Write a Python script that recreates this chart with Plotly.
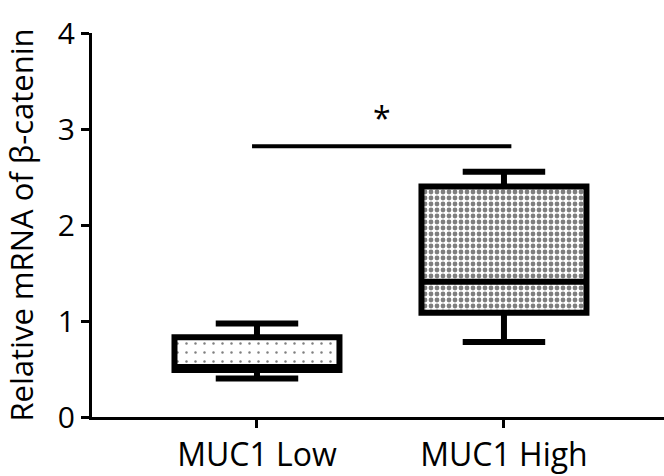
import plotly.graph_objects as go

categories = ["MUC1 Low", "MUC1 High"]
lower_whisker = [0.40, 0.78]
q1_values = [0.49, 1.085]
median_values = [0.52, 1.41]
q3_values = [0.83, 2.40]
upper_whisker = [0.975, 2.555]
fill_patterns = [".", "."]
pattern_sizes = [9, 6]
pattern_solidity = [0.06, 0.5]

y_ticks = [0, 1, 2, 3, 4]
sig_y = 2.82
sig_x = [-0.02, 1.03]
sig_label = "*"

FONT = "Open Sans"
box_w = 0.668

fig = go.Figure()

for i, cat in enumerate(categories):
    fig.add_trace(go.Bar(
        x=[cat], y=[q3_values[i] - q1_values[i]], base=[q1_values[i]],
        width=box_w,
        marker=dict(color="white", line=dict(width=0),
                    pattern=dict(shape=fill_patterns[i], size=pattern_sizes[i],
                                 solidity=pattern_solidity[i], fgcolor="black",
                                 bgcolor="white", fillmode="overlay")),
        hoverinfo="skip", showlegend=False))

fig.add_trace(go.Box(
    x=categories, q1=q1_values, median=median_values, q3=q3_values,
    lowerfence=lower_whisker, upperfence=upper_whisker,
    width=box_w, whiskerwidth=0.5,
    fillcolor="rgba(0,0,0,0)", line=dict(color="black", width=6),
    boxpoints=False, hoverinfo="skip", showlegend=False))

fig.add_shape(type="line", xref="x", yref="y", x0=sig_x[0], x1=sig_x[1],
              y0=sig_y, y1=sig_y, line=dict(color="black", width=4))
fig.add_annotation(x=(sig_x[0] + sig_x[1]) / 2, y=sig_y + 0.3, xref="x", yref="y",
                   text=sig_label, showarrow=False,
                   font=dict(family=FONT, size=32, color="black"))

fig.update_layout(
    width=664, height=476,
    margin=dict(l=92, r=0, t=33, b=59, autoexpand=False),
    paper_bgcolor="white", plot_bgcolor="white",
    font=dict(family=FONT, color="black"),
    bargap=0, barmode="overlay",
)
fig.update_xaxes(
    range=[-0.668, 1.648], showline=True, linecolor="black", linewidth=3,
    ticks="outside", ticklen=8, tickwidth=3, tickcolor="black",
    tickfont=dict(family=FONT, size=32, color="black"),
    showgrid=False, zeroline=False, fixedrange=True, automargin=False,
)
fig.update_yaxes(
    range=[0, 4], tickvals=y_ticks, showline=True, linecolor="black", linewidth=3,
    ticks="outside", ticklen=8, tickwidth=3, tickcolor="black",
    tickfont=dict(family=FONT, size=30, color="black"),
    title=dict(text="Relative mRNA of β-catenin", standoff=16,
               font=dict(family=FONT, size=31, color="black")),
    showgrid=False, zeroline=False, fixedrange=True, automargin=False,
)

fig.write_html("out.html", config={"displayModeBar": False},
               post_script="document.body.style.margin='0';document.body.style.overflow='hidden';")
